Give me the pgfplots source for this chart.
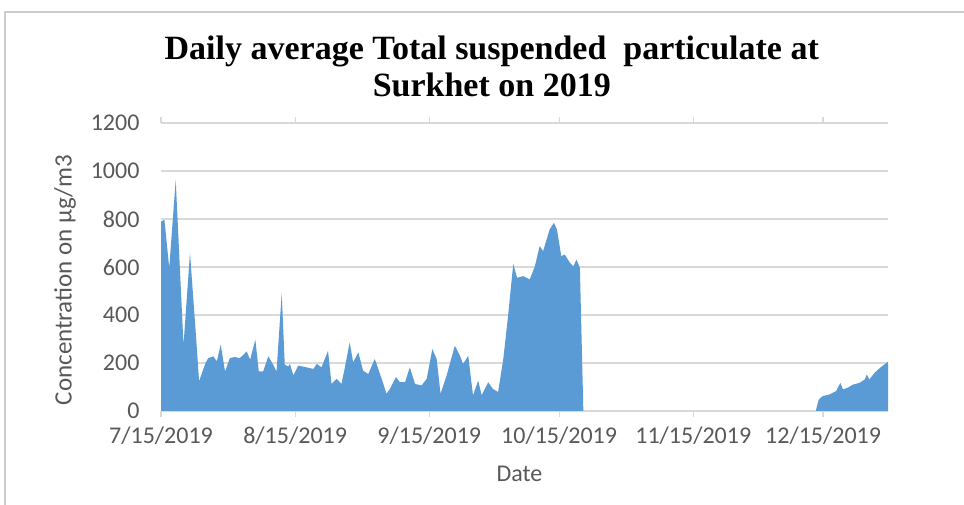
\documentclass[border=0pt]{standalone}
\usepackage{fontspec}
\setmainfont{Carlito}
\newfontfamily\titlefont{Liberation Serif}
\usepackage{pgfplots}
\pgfplotsset{compat=1.18}
\definecolor{areablue}{RGB}{91,155,213}
\definecolor{gridgray}{RGB}{217,217,217}
\definecolor{labelgray}{RGB}{89,89,89}
\definecolor{framegray}{RGB}{205,205,205}

\begin{document}
\begin{tikzpicture}[x=1pt,y=1pt]
\path[use as bounding box, fill=white] (0,0) rectangle (964,505);
\draw[framegray, line width=1.5pt] (5,0) -- (5,493) -- (964,493);
\begin{axis}[
  at={(161pt,94pt)}, anchor=south west,
  scale only axis, width=727pt, height=288pt,
  xmin=0, xmax=168, ymin=0, ymax=1200,
  xtick={0,31,62,92,123,153},
  xticklabels={7/15/2019,8/15/2019,9/15/2019,10/15/2019,11/15/2019,12/15/2019},
  ytick={0,200,400,600,800,1000,1200},
  /pgf/number format/1000 sep={},
  /pgf/number format/assume math mode=true,
  axis line style={draw=none},
  ymajorgrids, grid style={gridgray, line width=1.2pt},
  tick align=outside, major tick length=6pt,
  xtick style={draw=gridgray, line width=1.2pt},
  ytick style={draw=none},
  ticklabel style={font=\fontsize{24}{24}\selectfont, text=labelgray},
  xticklabel style={yshift=-6pt},
  yticklabel style={xshift=-12pt},
  xlabel={Date},
  ylabel={Concentration on µg/m3},
  every axis x label/.style={at={(axis description cs:0.493,-0.219)}, anchor=center,
    font=\fontsize{24}{24}\selectfont, text=labelgray},
  every axis y label/.style={at={(axis description cs:-0.132,0.455)}, rotate=90, anchor=center,
    font=\fontsize{25}{25}\selectfont, text=labelgray},
  title={Daily average Total suspended\ \ particulate at\\Surkhet on 2019},
  title style={at={(axis description cs:0.455,1.175)}, anchor=center, align=center,
    font=\titlefont\bfseries\fontsize{34}{37}\selectfont, text=black},
]
\addplot[fill=areablue, draw=none] coordinates {
  (0,790) (0.8,796) (1.9,596) (3.4,962) (5.2,275) (6.7,658) (7.9,360) (8.8,124)
  (9.6,165) (10.3,200) (10.9,220) (12.1,228) (12.9,207) (13.8,276) (14.8,165)
  (15.9,220) (17,225) (18.2,220) (19.8,248) (20.6,214) (21.8,297) (22.6,165)
  (23.6,165) (24.8,228) (25.9,193) (26.7,165) (27.9,490) (28.6,193) (29.4,185)
  (29.8,196) (30.6,148) (31.7,189) (33.6,182) (35.2,175) (36.0,196) (37.1,182)
  (38.6,251) (39.4,113) (40.6,134) (41.7,113) (42.5,182) (43.6,286) (44.4,203)
  (45.6,244) (46.7,168) (47.9,154) (49.4,217) (51.0,134) (52.1,72) (52.9,92)
  (54.3,141) (55.2,120) (56.4,120) (57.5,182) (58.7,113) (60.2,106) (61.4,134)
  (62.7,258) (63.7,217) (64.6,72) (66.0,148) (67.9,272) (69.1,230) (69.8,196)
  (71.0,230) (72.1,65) (73.3,127) (74.1,65) (75.6,120) (76.7,92) (77.9,79)
  (79.1,217) (80.2,396) (81.4,612) (82.3,555) (83.7,562) (85.2,548) (86.4,603)
  (87.5,687) (88.3,666) (89.1,714) (89.8,756) (90.8,784) (91.5,756) (92.5,645)
  (93.3,652) (94.5,617) (95.3,603) (96.0,631) (96.8,596) (97.6,0)
} \closedcycle;
\addplot[fill=areablue, draw=none] coordinates {
  (151.3,0) (152.0,48) (152.9,62) (154.5,69) (156.0,83) (157.0,117) (157.6,90)
  (158.7,97) (159.9,110) (161.4,117) (162.6,131) (163.1,152) (163.7,131)
  (164.9,159) (166.1,179) (167.6,200) (168,205)
} \closedcycle;
\end{axis}
\end{tikzpicture}
\end{document}
